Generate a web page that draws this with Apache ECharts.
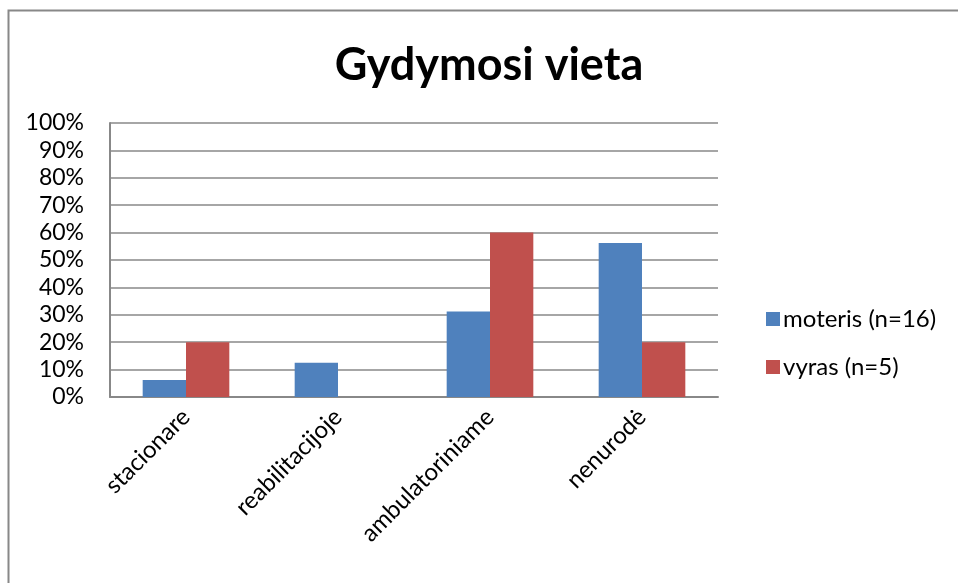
<!DOCTYPE html>
<html>
<head>
<meta charset="utf-8">
<script src="https://cdn.jsdelivr.net/npm/echarts@6/dist/echarts.min.js"></script>
<style>
  html, body { margin: 0; padding: 0; background: #fff; }
  #chart { width: 958px; height: 583px; }
</style>
</head>
<body>
<div id="chart"></div>
<script>
const categories = ['stacionare', 'reabilitacijoje', 'ambulatoriniame', 'nenurodė'];
const moteris = [6.25, 12.5, 31.25, 56.25];
const vyras = [20, 0, 60, 20];
const seriesNames = ['moteris (n=16)', 'vyras (n=5)'];

const FONT = 'Lato';

let chart = echarts.init(document.getElementById('chart'), null, { renderer: 'canvas' });

const option = {
    backgroundColor: '#fff',
    animation: false,
    title: {
        text: 'Gydymosi vieta',
        left: 484,
        top: 38,
        textAlign: 'center',
        textStyle: { fontFamily: FONT, fontSize: 45, fontWeight: 'bold', color: '#000' }
    },
    graphic: [{
        type: 'rect',
        shape: { x: 8.5, y: 10.5, width: 1000, height: 1000 },
        style: { fill: 'none', stroke: '#888', lineWidth: 2 },
        silent: true
    }],
    legend: {
        orient: 'vertical',
        left: 761,
        top: 302,
        itemWidth: 14,
        itemHeight: 14,
        itemGap: 24,
        icon: 'rect',
        textStyle: { fontFamily: FONT, fontSize: 24, color: '#000', padding: [0, 0, 0, -2] },
        data: seriesNames
    },
    grid: { left: 110, top: 123, right: 240, bottom: 186 },
    xAxis: {
        type: 'category',
        data: categories,
        axisLine: { lineStyle: { color: '#888', width: 2 } },
        axisTick: { show: false },
        axisLabel: { rotate: 45, margin: 16, fontFamily: FONT, fontSize: 24, color: '#000', interval: 0 }
    },
    yAxis: {
        type: 'value',
        min: 0,
        max: 100,
        interval: 10,
        axisLine: { show: true, lineStyle: { color: '#888', width: 2 } },
        axisTick: { show: false },
        splitLine: { lineStyle: { color: '#888', width: 1.5 } },
        axisLabel: { formatter: '{value}%', margin: 26, fontFamily: FONT, fontSize: 23, color: '#000' }
    },
    series: [
        {
            name: seriesNames[0],
            type: 'bar',
            data: moteris,
            barGap: '0%',
            barCategoryGap: '43%',
            itemStyle: { color: '#4F81BD' }
        },
        {
            name: seriesNames[1],
            type: 'bar',
            data: vyras,
            itemStyle: { color: '#C0504D' }
        }
    ]
};

chart.setOption(option);
</script>
</body>
</html>
